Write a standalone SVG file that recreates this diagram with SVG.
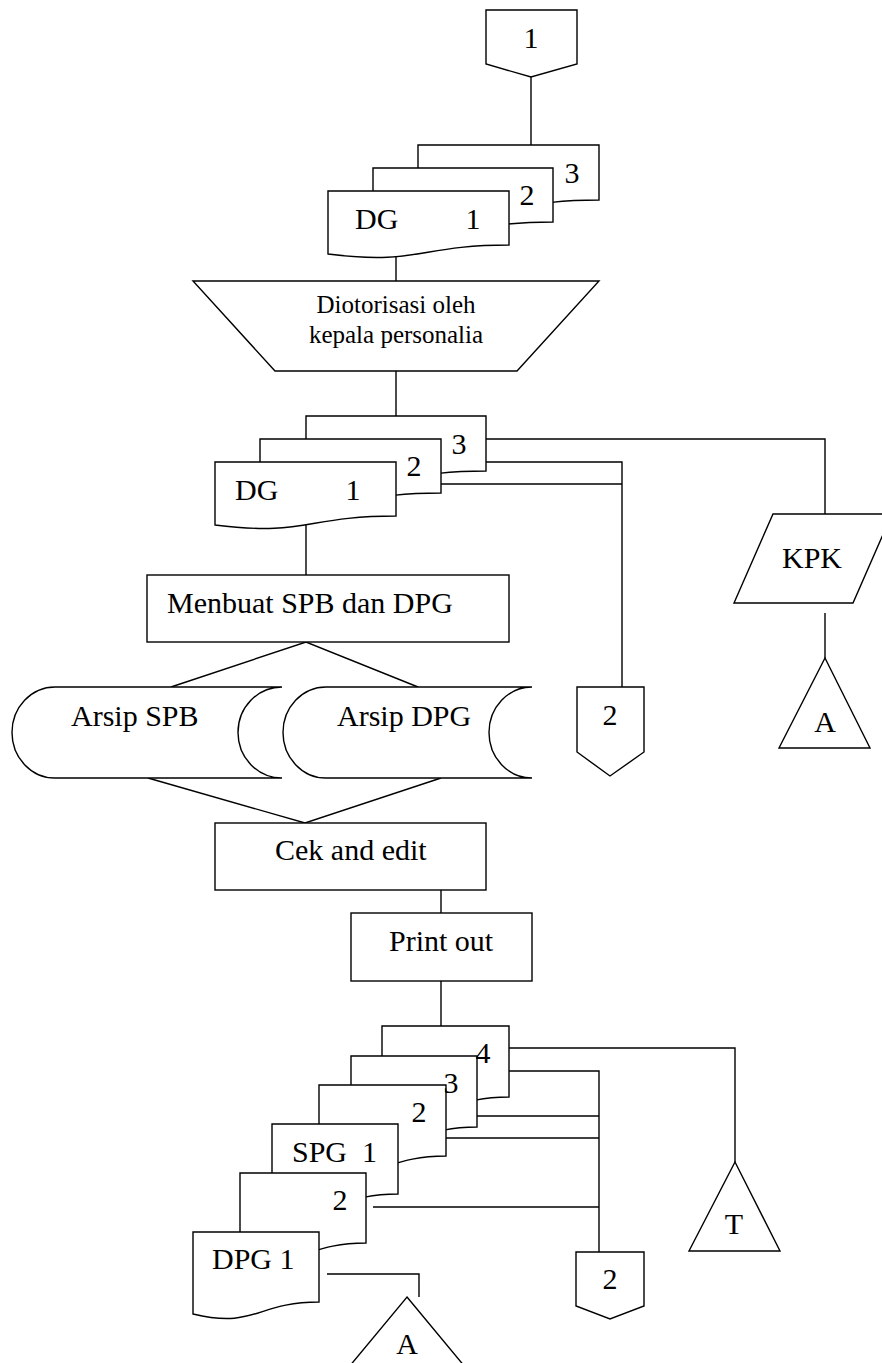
<svg xmlns="http://www.w3.org/2000/svg" width="882" height="1363" viewBox="0 0 882 1363">
<style>
.s{fill:#fff;stroke:#000;stroke-width:1.4;stroke-linejoin:miter}
.c{fill:none;stroke:#000;stroke-width:1.4}
text{font-family:"Liberation Serif","Times New Roman",serif;font-size:30px;fill:#000}
.m{text-anchor:middle}
.sm{font-size:25px}
</style>
<rect width="882" height="1363" fill="#fff"/>
<g id="connectors">
<path class="c" d="M531,77 V145"/>
<path class="c" d="M396,256 V281"/>
<path class="c" d="M396,371 V416"/>
<path class="c" d="M486,439 H825 V522"/>
<path class="c" d="M441,462 H622 V687"/>
<path class="c" d="M397,484 H622"/>
<path class="c" d="M825,613 V658"/>
<path class="c" d="M306,524 V575"/>
<path class="c" d="M171,687 L306,642 L418,687"/>
<path class="c" d="M148,778 L305,823 L441,778"/>
<path class="c" d="M441,890 V913"/>
<path class="c" d="M441,981 V1026"/>
<path class="c" d="M509,1048 H735 V1162"/>
<path class="c" d="M486,1071 H599 V1252"/>
<path class="c" d="M441,1116 H599"/>
<path class="c" d="M395,1138 H599"/>
<path class="c" d="M373,1207 H599"/>
<path class="c" d="M327,1274 H419 V1297"/>
</g>
<g id="conn1">
<polygon class="s" points="486,10 577,10 577,64 531,77 486,64"/>
<text class="m" x="531" y="48">1</text>
</g>
<g id="dg-top">
<path class="s" d="M418,145 H599 V200 C508.5,200 508.5,221 418,209 Z"/>
<path class="s" d="M373,168 H553 V222 C463,222 463,242.5 373,231 Z"/>
<path class="s" d="M328,191 H509 V245 C418.5,245 418.5,265.5 328,254 Z"/>
<text class="m" x="572" y="183">3</text>
<text class="m" x="527" y="205">2</text>
<text x="355" y="229">DG</text>
<text class="m" x="473" y="229">1</text>
</g>
<g id="otorisasi">
<polygon class="s" points="193,281 599,281 517,371 275,371"/>
<text class="m sm" x="396" y="313">Diotorisasi oleh</text>
<text class="m sm" x="396" y="343">kepala personalia</text>
</g>
<g id="dg-mid">
<path class="s" d="M306,416 H486 V471 C396,471 396,491.5 306,480 Z"/>
<path class="s" d="M260,439 H441 V493 C350.5,493 350.5,513.5 260,502 Z"/>
<path class="s" d="M215,462 H396 V516 C305.5,516 305.5,536.5 215,525 Z"/>
<text class="m" x="459" y="454">3</text>
<text class="m" x="414" y="476">2</text>
<text x="235" y="500">DG</text>
<text class="m" x="353" y="500">1</text>
</g>
<g id="kpk">
<polygon class="s" points="773,514 892,514 853,603 734,603"/>
<text class="m" x="812" y="568">KPK</text>
</g>
<g id="arsip-a-top">
<polygon class="s" points="825,658 870,748 779,748"/>
<text class="m" x="825" y="732">A</text>
</g>
<g id="conn2-mid">
<polygon class="s" points="577,687 644,687 644,752 610,776 577,752"/>
<text class="m" x="610" y="725">2</text>
</g>
<g id="menbuat">
<rect class="s" x="147" y="575" width="362" height="67"/>
<text x="167" y="613">Menbuat SPB dan DPG</text>
</g>
<g id="arsip-spb">
<path class="s" d="M55,687 H282 A44,45.5 0 0 0 282,778 H55 A43,45.5 0 0 1 55,687 Z"/>
<text x="71" y="726">Arsip SPB</text>
</g>
<g id="arsip-dpg">
<path class="s" d="M326,687 H532 A43,45.5 0 0 0 532,778 H326 A43,45.5 0 0 1 326,687 Z"/>
<text x="337" y="726">Arsip DPG</text>
</g>
<g id="cek">
<rect class="s" x="215" y="823" width="271" height="67"/>
<text x="275" y="860">Cek and edit</text>
</g>
<g id="print">
<rect class="s" x="351" y="913" width="181" height="68"/>
<text x="389" y="951">Print out</text>
</g>
<g id="spg-dpg">
<path class="s" d="M382,1026 H509 V1097 C445.5,1097 445.5,1124 382,1109 Z"/>
<path class="s" d="M351,1056 H477 V1127 C414,1127 414,1154 351,1139 Z"/>
<path class="s" d="M319,1085 H446 V1156 C382.5,1156 382.5,1183 319,1168 Z"/>
<path class="s" d="M272,1124 H398 V1194 C335,1194 335,1221 272,1206 Z"/>
<path class="s" d="M240,1173 H366 V1243 C303,1243 303,1270 240,1255 Z"/>
<path class="s" d="M193,1232 H319 V1302 C256,1302 256,1329 193,1314 Z"/>
<text class="m" x="483" y="1063">4</text>
<text class="m" x="451" y="1093">3</text>
<text class="m" x="419" y="1122">2</text>
<text x="292" y="1162" xml:space="preserve">SPG  1</text>
<text class="m" x="340" y="1210">2</text>
<text x="212" y="1269">DPG 1</text>
</g>
<g id="arsip-t">
<polygon class="s" points="735,1162 780,1251 689,1251"/>
<text class="m" x="734" y="1234">T</text>
</g>
<g id="conn2-bottom">
<polygon class="s" points="576,1252 644,1252 644,1306 610,1319 576,1306"/>
<text class="m" x="610" y="1289">2</text>
</g>
<g id="arsip-a-bottom">
<polygon class="s" points="407,1297 480,1385 334,1385"/>
<text class="m" x="407" y="1354">A</text>
</g>
</svg>
